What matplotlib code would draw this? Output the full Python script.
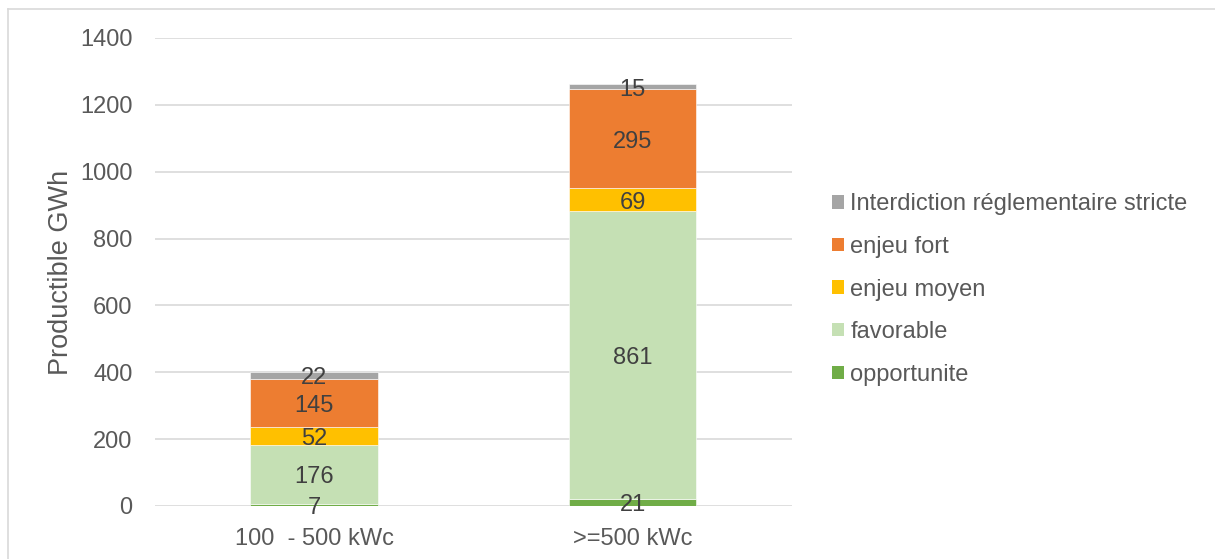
import matplotlib
matplotlib.use("Agg")
import matplotlib.pyplot as plt
from matplotlib.lines import Line2D
from matplotlib.patches import Patch
import matplotlib.transforms as mtransforms
import numpy as np

plt.rcParams['font.family'] = ['Liberation Sans', 'DejaVu Sans']

categories = ["100  - 500 kWc", ">=500 kWc"]
series_names = ["opportunite", "favorable", "enjeu moyen", "enjeu fort",
                "Interdiction réglementaire stricte"]
opportunite = [7, 21]
favorable = [176, 861]
enjeu_moyen = [52, 69]
enjeu_fort = [145, 295]
interdiction = [22, 15]
series_values = [opportunite, favorable, enjeu_moyen, enjeu_fort, interdiction]
colors = ["#70AD47", "#C5E0B4", "#FFC000", "#ED7D31", "#A5A5A5"]
yticks = [0, 200, 400, 600, 800, 1000, 1200, 1400]

FS = 17
W, H = 1215, 559
fig = plt.figure(figsize=(W / 100, H / 100), dpi=100)
ax = fig.add_axes([154.7 / W, (H - 506) / H, (792 - 154.7) / W, (506 - 38) / H])

shift = mtransforms.ScaledTranslation(0, -3 / 100, fig.dpi_scale_trans)
x = np.arange(len(categories))
bottom = np.zeros(len(categories))
handles = []
for name, vals, c in zip(series_names, series_values, colors):
    vals = np.array(vals, dtype=float)
    ax.bar(x, vals, 0.4, bottom=bottom, color=c, edgecolor="white",
           linewidth=0.4, zorder=3, label=name)
    for xi, v, b in zip(x, vals, bottom):
        ax.text(xi, b + v / 2, f"{int(v)}", ha="center", va="center",
                fontsize=FS, color="#404040", zorder=4,
                transform=ax.transData + shift)
    bottom += vals
    handles.append(Patch(facecolor=c, edgecolor="none", label=name))

ax.set_xlim(-0.5, 1.5)
ax.set_ylim(0, 1400)
ax.set_yticks(yticks)
ax.set_yticklabels([str(t) for t in yticks])
ax.set_xticks(x)
ax.set_xticklabels(categories)
ax.tick_params(axis="both", length=0, labelsize=FS, labelcolor="#595959")
ax.tick_params(axis="y", pad=16)
ax.tick_params(axis="x", pad=16)
ax.yaxis.grid(True, color="#D9D9D9", linewidth=1.2, zorder=0)
ax.set_axisbelow(True)
for s in ax.spines.values():
    s.set_visible(False)

ax.set_ylabel("Productible GWh", fontsize=19.5, color="#595959")
ax.yaxis.set_label_coords(-0.127, 0.5)

leg = fig.legend(handles=handles[::-1], loc="upper left",
                 bbox_to_anchor=(823 / W, (H - 184) / H), frameon=False,
                 fontsize=FS, handlelength=0.5, handleheight=0.5,
                 handletextpad=0.25, labelspacing=0.87, borderaxespad=0)
for t in leg.get_texts():
    t.set_color("#595959")

# outer frame (top and left edges visible)
fig.add_artist(Line2D([8 / W, 1.0], [(H - 9) / H, (H - 9) / H],
                      transform=fig.transFigure, color="#D9D9D9", lw=1.2))
fig.add_artist(Line2D([8 / W, 8 / W], [0, (H - 9) / H],
                      transform=fig.transFigure, color="#D9D9D9", lw=1.2))

fig.savefig("out.png", dpi=100)
